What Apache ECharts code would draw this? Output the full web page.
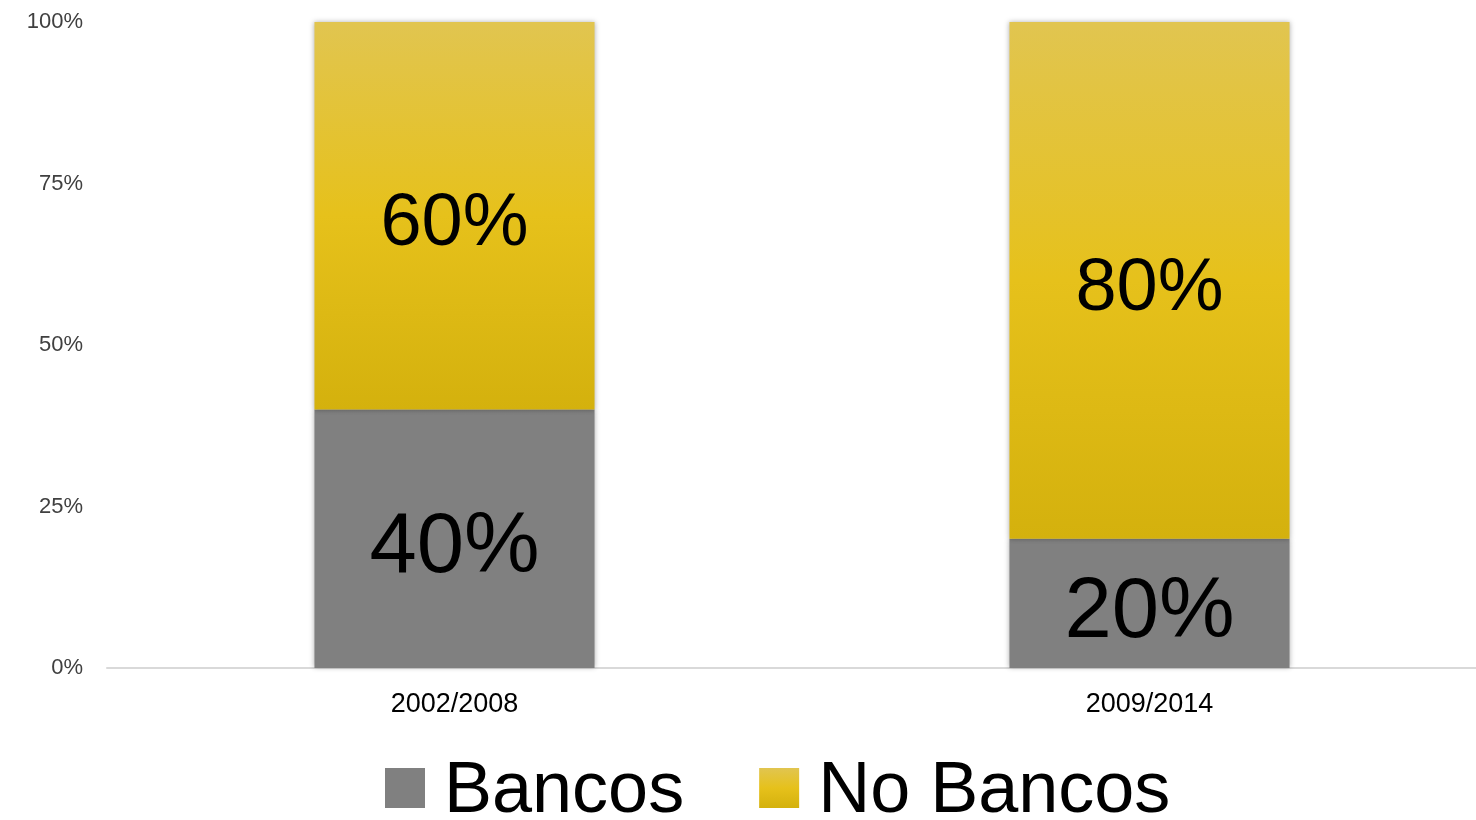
<!DOCTYPE html>
<html>
<head>
<meta charset="utf-8">
<script src="https://cdn.jsdelivr.net/npm/echarts@6/dist/echarts.min.js"></script>
<style>
html,body{margin:0;padding:0;background:#fff;}
#chart{width:1476px;height:820px;}
</style>
</head>
<body>
<div id="chart"></div>
<script>
var categories = ['2002/2008', '2009/2014'];
var bancos = [40, 20];
var noBancos = [60, 80];
var seriesNames = ['Bancos', 'No Bancos'];

var chart = echarts.init(document.getElementById('chart'));
var yellowGrad = new echarts.graphic.LinearGradient(0, 0, 0, 1, [
  {offset: 0, color: '#e1c550'},
  {offset: 0.5, color: '#e6c11b'},
  {offset: 1, color: '#d4b10d'}
]);
var shadow = {shadowBlur: 5, shadowColor: 'rgba(0,0,0,0.3)', shadowOffsetY: 0};
chart.setOption({
  animation: false,
  grid: {left: 107, width: 1390, top: 22, bottom: 152, outerBoundsMode: 'none', containLabel: false},
  legend: {
    left: 385, top: 756, padding: 0,
    itemWidth: 40, itemHeight: 40, itemGap: 75,
    icon: 'rect',
    formatter: '{t|{name}}',
    textStyle: {
      fontSize: 72, fontFamily: 'Liberation Sans', color: '#000', padding: [0, 0, 0, 14],
      rich: {t: {fontSize: 72, fontFamily: 'Liberation Sans', color: '#000', padding: [8, 0, 0, 0]}}
    },
    data: seriesNames
  },
  xAxis: {
    type: 'category',
    data: categories,
    axisLine: {lineStyle: {color: '#d9d9d9', width: 2}},
    axisTick: {show: false},
    axisLabel: {fontSize: 27, color: '#000', fontFamily: 'Liberation Sans', margin: 23}
  },
  yAxis: {
    type: 'value', min: 0, max: 100, interval: 25,
    splitLine: {show: false},
    axisLine: {show: false},
    axisTick: {show: false},
    axisLabel: {formatter: '{value}%', fontSize: 22, color: '#404040', fontFamily: 'Liberation Sans', margin: 24, verticalAlign: 'middle'}
  },
  series: [
    {
      name: seriesNames[0], type: 'bar', stack: 'total', barWidth: '40.3%',
      data: bancos,
      itemStyle: Object.assign({color: '#808080'}, shadow),
      label: {show: true, position: 'inside', offset: [0, 10], formatter: '{c}%', fontSize: 85, color: '#000', fontFamily: 'Liberation Sans'}
    },
    {
      name: seriesNames[1], type: 'bar', stack: 'total',
      data: noBancos,
      itemStyle: Object.assign({color: yellowGrad}, shadow),
      label: {show: true, position: 'inside', offset: [0, 9], formatter: '{c}%', fontSize: 74, color: '#000', fontFamily: 'Liberation Sans'}
    }
  ]
});
</script>
</body>
</html>
